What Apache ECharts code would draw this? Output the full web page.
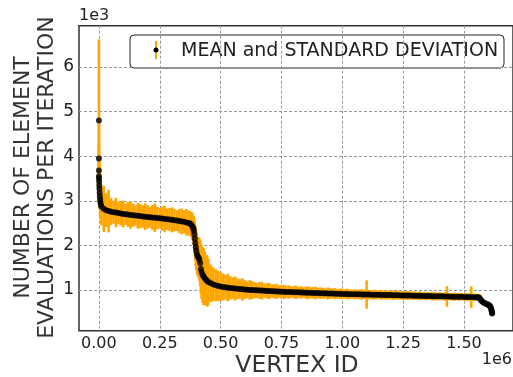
<!DOCTYPE html>
<html>
<head>
<meta charset="utf-8">
<script src="https://cdn.jsdelivr.net/npm/echarts@6/dist/echarts.min.js"></script>
<style>
  html, body { margin: 0; padding: 0; background: #fff; }
  #chart { width: 513px; height: 377px; }
</style>
</head>
<body>
<div id="chart"></div>
<script>
// vertex id (in thousands), mean and standard deviation
const vertexK = [
  0, 0, 0, 0, 0.5, 1, 1.5, 2, 3, 4, 5, 6, 8,
  10, 20, 30, 40, 50, 60, 70, 80, 90, 100,
  110, 120, 130, 140, 150, 160, 170, 180, 190, 200,
  210, 220, 230, 240, 250, 260, 270, 280, 290, 300,
  310, 320, 330, 340, 350, 360, 370,
  375, 380, 385, 388, 390, 392, 394, 396, 398, 400,
  403, 406, 410, 413, 416, 419, 422, 426, 430, 435,
  440, 445, 450, 460, 470, 480, 490,
  500, 510, 520, 530, 540, 550, 560, 570, 580, 590,
  600, 610, 620, 630, 640, 650, 660, 670, 680, 690,
  700, 710, 720, 730, 740, 750, 760, 770, 780, 790,
  800, 810, 820, 830, 840, 850, 860, 870, 880, 890,
  900, 910, 920, 930, 940, 950, 960, 970, 980, 990,
  1000, 1010, 1020, 1030, 1040, 1050, 1060, 1070, 1080, 1090,
  1100, 1110, 1120, 1130, 1140, 1150, 1160, 1170, 1180, 1190,
  1200, 1210, 1220, 1230, 1240, 1250, 1260, 1270, 1280, 1290,
  1300, 1310, 1320, 1330, 1340, 1350, 1360, 1370, 1380, 1390,
  1400, 1410, 1420, 1430, 1440, 1450, 1460, 1470, 1480, 1490,
  1500, 1510, 1520, 1530, 1540, 1550,
  1555, 1560, 1565, 1570, 1575, 1580, 1585, 1590, 1595, 1600,
  1603, 1606, 1609, 1611, 1613, 1614, 1615, 1616
];
const meanEval = [
  4800, 3950, 3680, 3550, 3500, 3430, 3350, 3270, 3180, 3100, 3030, 2970, 2910,
  2870, 2820, 2790, 2770, 2755, 2745, 2735, 2725, 2715, 2705,
  2698, 2690, 2683, 2676, 2670, 2663, 2657, 2650, 2644, 2638,
  2632, 2626, 2620, 2614, 2608, 2601, 2594, 2587, 2580, 2572,
  2564, 2556, 2548, 2538, 2528, 2515, 2500,
  2485, 2460, 2420, 2380, 2330, 2250, 2150, 2050, 1960, 1880,
  1800, 1750, 1720, 1680, 1600, 1470, 1400, 1340, 1300, 1260,
  1230, 1200, 1180, 1150, 1125, 1105, 1090,
  1078, 1068, 1060, 1052, 1045, 1038, 1032, 1026, 1020, 1014,
  1009, 1004, 1000, 997, 994, 991, 988, 985, 982, 979,
  976, 973, 970, 967, 964, 961, 958, 956, 954, 952,
  950, 948, 946, 944, 942, 940, 938, 936, 934, 932,
  930, 928, 926, 924, 922, 920, 918, 916, 914, 912,
  910, 909, 908, 906, 905, 904, 902, 901, 900, 898,
  897, 896, 894, 893, 892, 890, 889, 888, 886, 885,
  884, 882, 881, 880, 878, 877, 876, 874, 873, 872,
  870, 869, 868, 866, 865, 864, 862, 861, 860, 858,
  857, 856, 854, 853, 852, 850, 849, 848, 846, 845,
  844, 842, 841, 840, 838, 836,
  834, 830, 815, 770, 740, 720, 705, 690, 680, 670,
  655, 640, 620, 590, 550, 520, 490, 470
];
const stdEval = [
  1820, 900, 600, 450, 380, 400, 420, 360, 330, 300, 350, 380, 320,
  420, 520, 380, 480, 300, 260, 330, 250, 270, 300,
  240, 280, 310, 260, 230, 290, 270, 250, 300, 260,
  240, 280, 320, 250, 230, 270, 300, 240, 260, 280,
  250, 230, 270, 290, 260, 300, 280,
  260, 290, 300, 280, 320, 350, 380, 400, 420, 440,
  450, 430, 460, 480, 520, 560, 600, 620, 640, 600,
  560, 580, 520, 420, 380, 360, 340,
  330, 300, 280, 310, 260, 240, 270, 230, 220, 250,
  210, 190, 220, 200, 180, 170, 190, 200, 160, 170,
  180, 150, 160, 170, 140, 150, 160, 140, 150, 130,
  140, 150, 130, 140, 120, 135, 145, 125, 130, 140,
  120, 130, 125, 110, 135, 120, 115, 125, 110, 120,
  115, 105, 120, 110, 100, 115, 105, 110, 120, 100,
  320, 110, 100, 115, 105, 95, 110, 100, 105, 95,
  100, 110, 95, 100, 90, 105, 95, 100, 90, 95,
  95, 90, 100, 85, 95, 90, 85, 100, 90, 85,
  90, 85, 95, 230, 80, 85, 95, 80, 90, 85,
  80, 90, 85, 240, 80, 85,
  70, 80, 90, 75, 70, 65, 60, 55, 60, 55,
  50, 50, 45, 40, 40, 35, 30, 30
];
const xTicks = [0, 250000, 500000, 750000, 1000000, 1250000, 1500000];
const yTicks = [1000, 2000, 3000, 4000, 5000, 6000];

const FONT = 'DejaVu Sans';
const chart = echarts.init(document.getElementById('chart'));

const barData = vertexK.map((v, i) => [v * 1000, meanEval[i] - stdEval[i], meanEval[i] + stdEval[i]]);
const dotData = vertexK.map((v, i) => [v * 1000, meanEval[i]]);

chart.setOption({
  animation: false,
  grid: {
    left: 79, top: 25.7, right: -2, bottom: 46.3,
    show: true, borderColor: '#333', borderWidth: 1.5
  },
  xAxis: {
    type: 'value',
    min: -81800, max: 1701400,
    axisLine: { show: false },
    axisTick: { show: false, customValues: xTicks },
    axisLabel: {
      customValues: xTicks,
      formatter: v => (v / 1e6).toFixed(2),
      color: '#222', fontFamily: FONT, fontSize: 16, margin: 5
    },
    splitLine: { show: true, lineStyle: { color: '#999', type: [3, 2], width: 1 } }
  },
  yAxis: {
    type: 'value',
    min: 86, max: 6927,
    axisLine: { show: false },
    axisTick: { show: false, customValues: yTicks },
    axisLabel: {
      customValues: yTicks,
      formatter: v => String(v / 1000),
      color: '#222', fontFamily: FONT, fontSize: 17, margin: 5
    },
    splitLine: { show: true, lineStyle: { color: '#999', type: [3, 2], width: 1 } }
  },
  series: [
    {
      type: 'custom',
      name: 'std',
      data: barData,
      encode: { x: 0, y: [1, 2] },
      z: 2,
      renderItem: function (params, api) {
        const p1 = api.coord([api.value(0), api.value(1)]);
        const p2 = api.coord([api.value(0), api.value(2)]);
        return {
          type: 'line',
          shape: { x1: p1[0], y1: p1[1], x2: p2[0], y2: p2[1] },
          style: { stroke: '#FFA500', lineWidth: 2.6 }
        };
      }
    },
    {
      type: 'scatter',
      name: 'mean',
      data: dotData,
      symbolSize: 6,
      itemStyle: { color: '#000' },
      z: 3
    }
  ],
  graphic: [
    { type: 'text', left: 79, top: 8, style: { text: '1e3', font: '16px "DejaVu Sans"', fill: '#222' } },
    { type: 'text', right: 1, top: 352, style: { text: '1e6', font: '16px "DejaVu Sans"', fill: '#222' } },
    {
      type: 'text', x: 297, y: 366,
      style: { text: 'VERTEX ID', font: '23.5px "DejaVu Sans"', fill: '#333', align: 'center', verticalAlign: 'middle' }
    },
    {
      type: 'text', x: 35, y: 177.5, rotation: Math.PI / 2,
      style: {
        text: 'NUMBER OF ELEMENT\nEVALUATIONS PER ITERATION',
        font: '22px "DejaVu Sans"', lineHeight: 24, fill: '#333',
        align: 'center', verticalAlign: 'middle'
      }
    },
    {
      type: 'group', z: 100,
      children: [
        {
          type: 'rect', shape: { x: 130, y: 35, width: 374, height: 33, r: 4 },
          style: { fill: 'rgba(255,255,255,0.9)', stroke: '#222', lineWidth: 1 }
        },
        {
          type: 'line', shape: { x1: 156, y1: 41, x2: 156, y2: 59 },
          style: { stroke: '#FFA500', lineWidth: 2 }
        },
        { type: 'circle', shape: { cx: 156, cy: 50, r: 2.5 }, style: { fill: '#000' } },
        {
          type: 'text', x: 181, y: 51,
          style: { text: 'MEAN and STANDARD DEVIATION', font: '19px "DejaVu Sans"', fill: '#222', verticalAlign: 'middle' }
        }
      ]
    }
  ]
});
</script>
</body>
</html>
